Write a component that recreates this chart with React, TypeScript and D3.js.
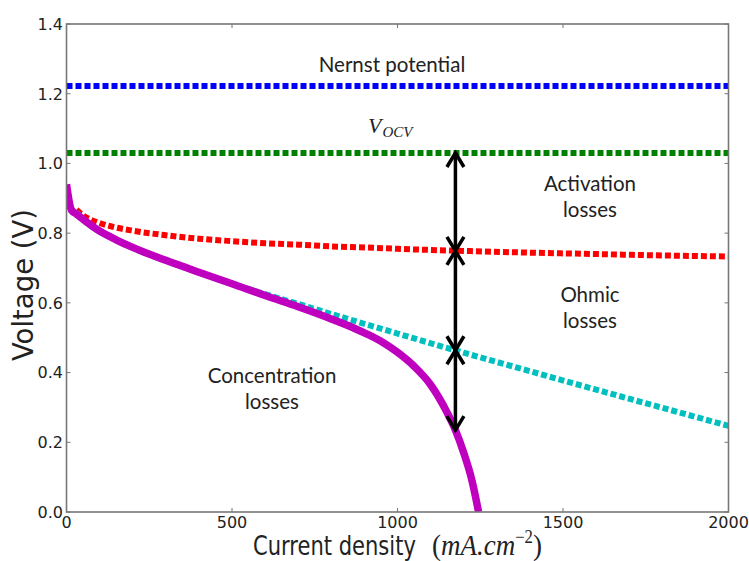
import React from "react";
import * as d3 from "d3";

// ---- Data ----
const nernstPotential = 1.222;
const vOcv = 1.03;

const activationCurrent = [30, 50, 100, 150, 200, 300, 400, 500, 600, 700, 800, 900, 1000, 1200, 1400, 1600, 1800, 2000];
const activationVoltage = [0.867, 0.851, 0.829, 0.816, 0.807, 0.794, 0.784, 0.777, 0.771, 0.767, 0.762, 0.759, 0.755, 0.749, 0.744, 0.74, 0.736, 0.733];

const ohmicCurrent = [30, 50, 100, 150, 200, 300, 400, 500, 600, 700, 800, 900, 1000, 1200, 1400, 1600, 1800, 2000];
const ohmicVoltage = [0.86, 0.839, 0.805, 0.78, 0.758, 0.721, 0.687, 0.655, 0.625, 0.597, 0.568, 0.54, 0.512, 0.457, 0.404, 0.351, 0.299, 0.247];

const concCurrent = [0, 15, 30, 50, 100, 150, 200, 300, 400, 500, 600, 700, 800, 850, 900, 950, 1000, 1050, 1100, 1150, 1175, 1200, 1225, 1245];
const concVoltage = [0.94, 0.866, 0.855, 0.84, 0.806, 0.781, 0.759, 0.722, 0.688, 0.655, 0.621, 0.589, 0.554, 0.535, 0.514, 0.49, 0.458, 0.418, 0.365, 0.285, 0.235, 0.17, 0.09, 0.0];

const arrowCurrent = 1175;
const arrowLevels = [1.03, 0.749, 0.464, 0.235];

const xTicks = [0, 500, 1000, 1500, 2000];
const xTickLabels = ["0", "500", "1000", "1500", "2000"];
const yTicks = [0, 0.2, 0.4, 0.6, 0.8, 1.0, 1.2, 1.4];
const yTickLabels = ["0.0", "0.2", "0.4", "0.6", "0.8", "1.0", "1.2", "1.4"];

const W = 749;
const H = 561;
const left = 66.5, right = 728.5, top = 24, bottom = 512;

export default function App() {
  const x = d3.scaleLinear().domain([0, 2000]).range([left, right]);
  const y = d3.scaleLinear().domain([0, 1.4]).range([bottom, top]);

  const line = d3
    .line<[number, number]>()
    .x((d) => x(d[0]))
    .y((d) => y(d[1]))
    .curve(d3.curveMonotoneX);

  const act = activationCurrent.map((c, i) => [c, activationVoltage[i]] as [number, number]);
  const ohm = ohmicCurrent.map((c, i) => [c, ohmicVoltage[i]] as [number, number]);
  const conc = concCurrent.map((c, i) => [c, concVoltage[i]] as [number, number]);

  const tickColor = "#777";
  const textColor = "#222";
  const annFont = "Lato, 'Open Sans', sans-serif";

  const ax = x(arrowCurrent);
  const chevron = (tipY: number, dir: number, key: string) => {
    const len = 14, hw = 8.5;
    const d = `M${ax - hw},${tipY - dir * len} L${ax},${tipY} L${ax + hw},${tipY - dir * len}`;
    return <path key={key} d={d} fill="none" stroke="#000" strokeWidth={3.5} strokeLinejoin="miter" strokeLinecap="butt" />;
  };

  const arrows: JSX.Element[] = [];
  for (let k = 0; k < arrowLevels.length - 1; k++) {
    arrows.push(chevron(y(arrowLevels[k]), -1, `u${k}`));
    arrows.push(chevron(y(arrowLevels[k + 1]), 1, `d${k}`));
  }

  return (
    <svg width={W} height={H} style={{ position: "absolute", left: 0, top: 0, background: "#fff" }}>
      <defs>
        <clipPath id="plot">
          <rect x={left} y={top} width={right - left} height={bottom - top} />
        </clipPath>
      </defs>

      <g clipPath="url(#plot)">
        <line x1={x(0)} x2={x(2000)} y1={y(nernstPotential)} y2={y(nernstPotential)} stroke="#0000ff" strokeWidth={6} strokeDasharray="6 3" />
        <line x1={x(0)} x2={x(2000)} y1={y(vOcv)} y2={y(vOcv)} stroke="#008000" strokeWidth={6} strokeDasharray="6 3" />
        <path d={line(act) || ""} fill="none" stroke="#ff0000" strokeWidth={6} strokeDasharray="6 3" />
        <path d={line(ohm) || ""} fill="none" stroke="#00bfbf" strokeWidth={6} strokeDasharray="6 3" />
        <path d={line(conc) || ""} fill="none" stroke="#bf00bf" strokeWidth={7.5} strokeLinejoin="round" />
      </g>

      {/* arrows */}
      <line x1={ax} x2={ax} y1={y(arrowLevels[0])} y2={y(arrowLevels[arrowLevels.length - 1])} stroke="#000" strokeWidth={3.5} />
      {arrows}

      {/* frame */}
      <rect x={left} y={top} width={right - left} height={bottom - top} fill="none" stroke={tickColor} strokeWidth={1.6} />

      {/* ticks */}
      {xTicks.map((t, i) => (
        <g key={`xt${i}`}>
          <line x1={x(t)} x2={x(t)} y1={bottom} y2={bottom - 4} stroke={tickColor} strokeWidth={1} />
          <line x1={x(t)} x2={x(t)} y1={top} y2={top + 4} stroke={tickColor} strokeWidth={1} />
          <text x={x(t)} y={527.5} textAnchor="middle" fontFamily="'DejaVu Sans', sans-serif" fontSize={16} fill={textColor}>
            {xTickLabels[i]}
          </text>
        </g>
      ))}
      {yTicks.map((t, i) => (
        <g key={`yt${i}`}>
          <line x1={left} x2={left + 4} y1={y(t)} y2={y(t)} stroke={tickColor} strokeWidth={1} />
          <line x1={right} x2={right - 4} y1={y(t)} y2={y(t)} stroke={tickColor} strokeWidth={1} />
          <text x={63} y={y(t) + 5.8} textAnchor="end" fontFamily="'DejaVu Sans', sans-serif" fontSize={16} fill={textColor}>
            {yTickLabels[i]}
          </text>
        </g>
      ))}

      {/* axis labels */}
      <g transform="translate(253,555) scale(0.81,1)">
        <text x={0} y={0} fontFamily="'DejaVu Sans', sans-serif" fontSize={26} fill={textColor}>
          Current density
        </text>
      </g>
      <g transform="translate(432,555) scale(0.93,1)">
        <text x={0} y={0} fontFamily="'Liberation Serif', serif" fontSize={29} fill={textColor}>
          <tspan>(</tspan>
          <tspan fontStyle="italic">mA.cm</tspan>
          <tspan fontSize={18} dy={-12}>−2</tspan>
          <tspan dy={12}>)</tspan>
        </text>
      </g>
      <text
        transform="translate(33,285) rotate(-90)"
        textAnchor="middle"
        fontFamily="'DejaVu Sans', sans-serif"
        fontSize={27.5}
        fill={textColor}
      >
        Voltage (V)
      </text>

      {/* annotations */}
      <text x={392} y={72} textAnchor="middle" fontFamily={annFont} fontSize={20.5} fill={textColor}>
        Nernst potential
      </text>
      <text x={368} y={133} fontFamily="'Liberation Serif', serif" fontStyle="italic" fontSize={22} fill={textColor}>
        V<tspan fontSize={15} dy={4} dx={1}>OCV</tspan>
      </text>
      <text x={590} y={191} textAnchor="middle" fontFamily={annFont} fontSize={20.5} fill={textColor}>
        Activation
      </text>
      <text x={590} y={217} textAnchor="middle" fontFamily={annFont} fontSize={20.5} fill={textColor}>
        losses
      </text>
      <text x={590} y={302} textAnchor="middle" fontFamily={annFont} fontSize={20.5} fill={textColor}>
        Ohmic
      </text>
      <text x={590} y={328} textAnchor="middle" fontFamily={annFont} fontSize={20.5} fill={textColor}>
        losses
      </text>
      <text x={272} y={383} textAnchor="middle" fontFamily={annFont} fontSize={20.5} fill={textColor}>
        Concentration
      </text>
      <text x={272} y={409} textAnchor="middle" fontFamily={annFont} fontSize={20.5} fill={textColor}>
        losses
      </text>
    </svg>
  );
}
